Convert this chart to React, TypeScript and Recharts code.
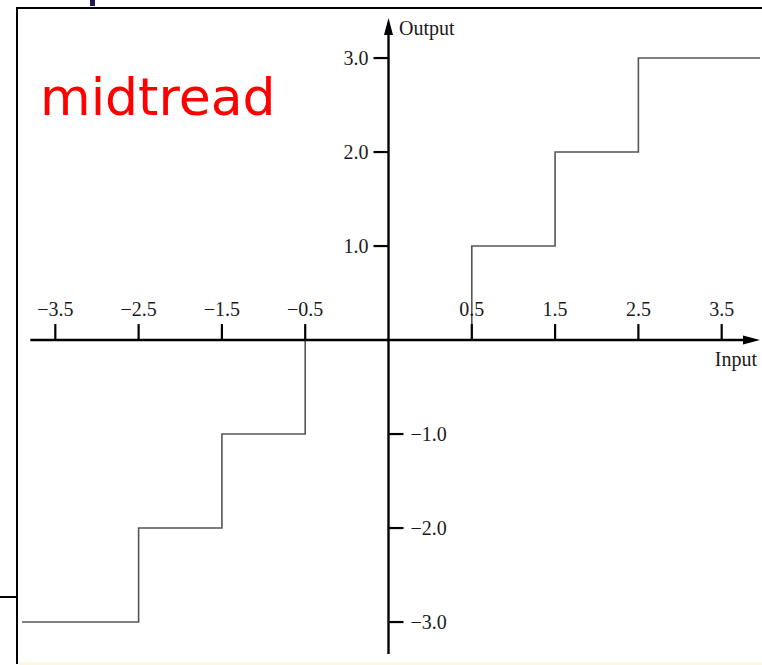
import React from "react";
import { LineChart, Line, XAxis, YAxis, ReferenceLine } from "recharts";

// midtread quantizer: input -> output
const inputs = [-3.9, -2.5, -1.5, -0.5, 0.5, 1.5, 2.5, 3.96];
const outputs = [-3, -2, -1, 0, 1, 2, 3, 3];

const xTicks = [-3.5, -2.5, -1.5, -0.5, 0.5, 1.5, 2.5, 3.5];
const xTickLabels = ["−3.5", "−2.5", "−1.5", "−0.5", "0.5", "1.5", "2.5", "3.5"];
const yTicks = [3, 2, 1, -1, -2, -3];
const yTickLabels = ["3.0", "2.0", "1.0", "−1.0", "−2.0", "−3.0"];

const data = inputs.map((x, i) => ({ x, y: outputs[i] }));

const X_DOMAIN = [-3.9, 3.96];
const Y_DOMAIN = [-3.34, 3.426];
const FONT = "'Liberation Serif', 'Times New Roman', serif";
const INK = "#1a1a1a";

// the figure gives the -0.5..0.5 gap two tick spacings, so the input axis is stretched around zero
const warp = (v: number) => (Math.abs(v) <= 0.5 ? 2 * v : v + 0.5 * Math.sign(v));
const unwarp = (u: number) => (Math.abs(u) <= 1 ? u / 2 : u - 0.5 * Math.sign(u));

function quantScale(dom: number[] = [0, 1], rng: number[] = [0, 1]): any {
  const s: any = (v: number) => {
    const u0 = warp(dom[0]);
    const u1 = warp(dom[1]);
    return rng[0] + ((warp(Number(v)) - u0) / (u1 - u0)) * (rng[1] - rng[0]);
  };
  s.domain = (d?: any[]) => {
    if (d === undefined) return dom.slice();
    dom = d.map(Number);
    return s;
  };
  s.range = (r?: any[]) => {
    if (r === undefined) return rng.slice();
    rng = r.map(Number);
    return s;
  };
  s.copy = () => quantScale(dom, rng);
  s.invert = (p: number) => {
    const u0 = warp(dom[0]);
    const u1 = warp(dom[1]);
    return unwarp(u0 + ((p - rng[0]) / (rng[1] - rng[0])) * (u1 - u0));
  };
  s.ticks = () => xTicks.slice();
  s.tickFormat = () => (v: number) => String(v);
  s.clamp = () => s;
  s.nice = () => s;
  return s;
}

const xScale = quantScale();

const arrowAxis = (label: string, kind: "x" | "y") => (p: any) => {
  const { x1, y1, x2, y2 } = p;
  const len = Math.hypot(x2 - x1, y2 - y1) || 1;
  const ux = (x2 - x1) / len;
  const uy = (y2 - y1) / len;
  const head = 17;
  const half = 4.5;
  const bx = x2 - ux * head;
  const by = y2 - uy * head;
  const pts = `${x2},${y2} ${bx - uy * half},${by + ux * half} ${bx + uy * half},${by - ux * half}`;
  return (
    <g>
      <line x1={x1} y1={y1} x2={bx + ux * 2} y2={by + uy * 2} stroke="#000" strokeWidth={2.4} />
      <polygon points={pts} fill="#000" />
      {kind === "y" ? (
        <text x={x2 + 10.5} y={y2 + 17} fontFamily={FONT} fontSize={20} fill={INK} textAnchor="start">
          {label}
        </text>
      ) : (
        <text x={x2 - 3} y={y2 + 26} fontFamily={FONT} fontSize={20} fill={INK} textAnchor="end">
          {label}
        </text>
      )}
    </g>
  );
};

const xTickShape = (label: string) => (p: any) => (
  <g>
    <line x1={p.x1} y1={p.y1} x2={p.x2} y2={p.y2} stroke="#000" strokeWidth={2.2} />
    <text x={p.x2} y={p.y2 - 8} fontFamily={FONT} fontSize={20} fill={INK} textAnchor="middle">
      {label}
    </text>
  </g>
);

const yTickShape = (label: string, positive: boolean) => (p: any) => (
  <g>
    <line x1={p.x1} y1={p.y1} x2={p.x2} y2={p.y2} stroke="#000" strokeWidth={2.2} />
    {positive ? (
      <text x={p.x1 - 5} y={p.y1 + 7} fontFamily={FONT} fontSize={20} fill={INK} textAnchor="end">
        {label}
      </text>
    ) : (
      <text x={p.x2 + 7} y={p.y2 + 7} fontFamily={FONT} fontSize={20} fill={INK} textAnchor="start">
        {label}
      </text>
    )}
  </g>
);

export default function App() {
  return (
    <div
      style={{
        position: "absolute",
        left: 0,
        top: 0,
        width: 762,
        height: 665,
        overflow: "hidden",
        background: "#fff",
      }}
    >
      <svg width={762} height={665} style={{ position: "absolute", left: 0, top: 0 }}>
        <rect x={90} y={0} width={5} height={6} fill="#1b1b5a" />
        <rect x={19} y={662} width={743} height={3} fill="#fbf7e4" />
        <line x1={17} y1={8} x2={17} y2={664} stroke="#000" strokeWidth={2} />
        <line x1={16} y1={8} x2={762} y2={8} stroke="#000" strokeWidth={2} />
        <line x1={0} y1={597} x2={17} y2={597} stroke="#000" strokeWidth={2} />
      </svg>
      <div style={{ position: "absolute", left: 0, top: 0 }}>
        <LineChart width={762} height={665} data={data} margin={{ top: 18, right: 2, bottom: 11, left: 22 }}>
          <XAxis
            dataKey="x"
            type="number"
            scale={xScale}
            domain={X_DOMAIN}
            allowDataOverflow
            hide
          />
          <YAxis type="number" domain={Y_DOMAIN} allowDataOverflow hide />
          <Line
            type="stepAfter"
            dataKey="y"
            stroke="#555"
            strokeWidth={1.6}
            dot={false}
            activeDot={false}
            isAnimationActive={false}
          />
          <ReferenceLine
            segment={[{ x: -3.8, y: 0 }, { x: X_DOMAIN[1], y: 0 }]}
            ifOverflow="visible"
            shape={arrowAxis("Input", "x")}
          />
          <ReferenceLine
            segment={[{ x: 0, y: Y_DOMAIN[0] }, { x: 0, y: Y_DOMAIN[1] }]}
            ifOverflow="visible"
            shape={arrowAxis("Output", "y")}
          />
          {xTicks.map((v, i) => (
            <ReferenceLine
              key={`xt${v}`}
              segment={[{ x: v, y: 0 }, { x: v, y: 0.17 }]}
              ifOverflow="visible"
              shape={xTickShape(xTickLabels[i])}
            />
          ))}
          {yTicks.map((v, i) => (
            <ReferenceLine
              key={`yt${v}`}
              segment={v > 0 ? [{ x: -0.09, y: v }, { x: 0, y: v }] : [{ x: 0, y: v }, { x: 0.09, y: v }]}
              ifOverflow="visible"
              shape={yTickShape(yTickLabels[i], v > 0)}
            />
          ))}
        </LineChart>
      </div>
      <svg width={762} height={665} style={{ position: "absolute", left: 0, top: 0, pointerEvents: "none" }}>
        <text x={40} y={115} fontFamily="'DejaVu Sans', Verdana, sans-serif" fontSize={52} fill="#ff0000">
          midtread
        </text>
      </svg>
    </div>
  );
}
